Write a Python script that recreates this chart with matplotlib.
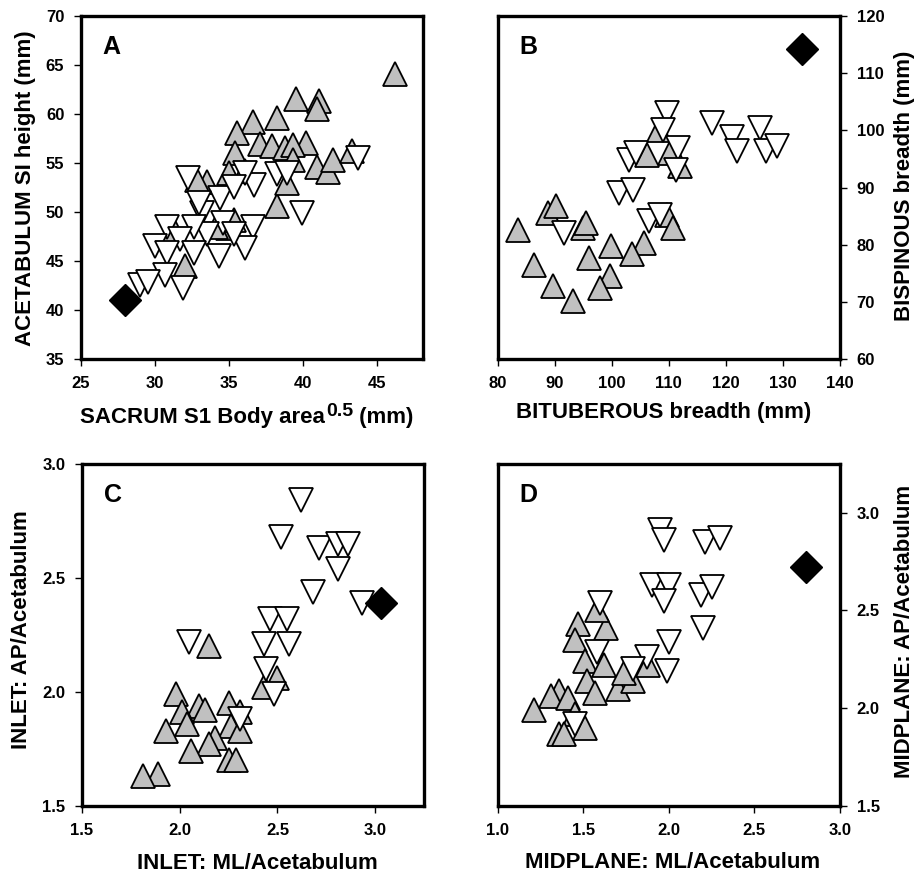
import matplotlib
matplotlib.use("Agg")
import matplotlib.pyplot as plt

plt.rcParams['font.family'] = ['Liberation Sans', 'DejaVu Sans']
plt.rcParams['font.weight'] = 'bold'

# ---------------- Panel A ----------------
a_up_x = [46.2, 39.5, 41.1, 40.9, 38.2, 36.6, 35.5, 35.4, 37.1, 37.9, 38.8, 40.2, 39.3,
          40.9, 41.7, 42.0, 43.3, 38.2, 35.0, 36.1, 33.5, 32.8, 32.0, 34.9, 38.9, 39.3,
          31.3, 34.1, 35.3]
a_up_y = [64.1, 61.5, 61.3, 60.5, 59.6, 59.2, 58.1, 56.0, 56.9, 56.7, 56.5, 57.0, 56.8,
          54.6, 54.1, 55.3, 56.2, 50.6, 54.0, 54.2, 53.1, 53.3, 44.5, 48.4, 53.0, 55.3,
          48.2, 48.5, 49.2]
a_dn_x = [43.7, 39.9, 38.2, 36.7, 36.1, 32.2, 34.4, 35.3, 33.2, 34.6, 36.6, 33.5, 32.6,
          30.8, 31.7, 30.0, 30.8, 34.3, 36.1, 30.7, 31.9, 29.0, 29.5, 32.6, 35.3, 33.0,
          38.9]
a_dn_y = [55.5, 49.9, 53.9, 52.8, 54.0, 53.5, 51.4, 52.6, 49.9, 48.9, 48.5, 47.8, 48.5,
          48.5, 47.2, 46.5, 45.8, 45.5, 46.3, 43.6, 42.2, 42.6, 42.9, 45.8, 47.8, 50.9,
          54.0]
a_dia_x = [28.0]
a_dia_y = [41.0]

# ---------------- Panel B ----------------
b_up_x = [108.3, 110.2, 106.2, 111.9, 109.6, 110.7, 105.6, 99.8, 103.6, 96.0, 99.6, 98.0,
          89.7, 93.2, 86.4, 83.5, 88.8, 90.3, 94.9, 95.5]
b_up_y = [100.1, 96.1, 95.7, 93.7, 85.2, 82.9, 80.3, 79.7, 78.4, 77.7, 74.5, 72.4,
          72.7, 70.1, 76.5, 82.6, 85.5, 86.7, 82.9, 83.8]
b_dn_x = [109.6, 117.5, 121.0, 121.9, 126.0, 127.0, 128.9, 109.0, 111.6, 103.1, 104.3,
          101.3, 103.7, 106.6, 108.4, 91.7, 111.3]
b_dn_y = [103.0, 101.3, 98.9, 96.3, 100.4, 96.3, 97.2, 100.1, 96.9, 94.8, 96.0,
          89.0, 89.6, 84.1, 85.2, 82.0, 93.1]
b_dia_x = [133.3]
b_dia_y = [114.2]

# ---------------- Panel C ----------------
c_up_x = [2.15, 2.50, 2.43, 1.98, 2.10, 2.01, 2.13, 2.25, 2.31, 2.04, 1.93, 2.26, 2.31,
          2.18, 2.15, 2.06, 2.25, 2.29, 1.89, 1.81]
c_up_y = [2.20, 2.06, 2.02, 1.99, 1.94, 1.91, 1.92, 1.95, 1.91, 1.86, 1.83, 1.85, 1.83,
          1.80, 1.77, 1.74, 1.70, 1.70, 1.64, 1.63]
c_dn_x = [2.62, 2.52, 2.71, 2.81, 2.86, 2.81, 2.68, 2.93, 2.46, 2.55, 2.43, 2.56, 2.05,
          2.44, 2.48, 2.31]
c_dn_y = [2.84, 2.68, 2.63, 2.65, 2.65, 2.54, 2.44, 2.39, 2.32, 2.32, 2.21, 2.21, 2.22,
          2.10, 1.99, 1.88]
c_dia_x = [3.03]
c_dia_y = [2.39]

# ---------------- Panel D ----------------
d_up_x = [1.47, 1.63, 1.45, 1.58, 1.51, 1.62, 1.52, 1.57, 1.70, 1.79, 1.74, 1.88, 1.36,
          1.31, 1.41, 1.21, 1.45, 1.51, 1.36, 1.39]
d_up_y = [2.43, 2.41, 2.35, 2.50, 2.24, 2.22, 2.14, 2.08, 2.10, 2.14, 2.18, 2.22, 2.09,
          2.06, 2.05, 1.99, 1.97, 1.90, 1.87, 1.87]
d_dn_x = [1.95, 1.97, 2.21, 2.30, 1.90, 2.00, 1.97, 2.19, 2.25, 1.60, 2.20, 2.00, 1.58,
          1.87, 1.79, 1.99, 1.45]
d_dn_y = [2.91, 2.86, 2.85, 2.87, 2.63, 2.63, 2.55, 2.58, 2.62, 2.54, 2.41, 2.34, 2.29,
          2.26, 2.20, 2.19, 1.92]
d_dia_x = [2.80]
d_dia_y = [2.72]

a_xticks = [25, 30, 35, 40, 45]
a_yticks = [35, 40, 45, 50, 55, 60, 65, 70]
b_xticks = [80, 90, 100, 110, 120, 130, 140]
b_yticks = [60, 70, 80, 90, 100, 110, 120]
c_xticks = [1.5, 2.0, 2.5, 3.0]
c_yticks = [1.5, 2.0, 2.5, 3.0]
d_xticks = [1.0, 1.5, 2.0, 2.5, 3.0]
d_yticks = [1.5, 2.0, 2.5, 3.0]

GREY = '#c0c0c0'
MS = 17
TICKFS = 12
LABFS = 16

fig = plt.figure(figsize=(9.2, 8.75), dpi=100)

W = 0.372
axA = fig.add_axes([0.088, 0.5897, W, 0.392])
axB = fig.add_axes([0.541, 0.5897, W, 0.392])
axC = fig.add_axes([0.089, 0.0789, W, 0.391])
axD = fig.add_axes([0.541, 0.0789, W, 0.391])


def draw(ax, ux, uy, dx, dy, qx, qy, xt, yt, fmt, right=False):
    ax.plot(ux, uy, ls='none', marker='^', ms=MS, mfc=GREY, mec='black', mew=1.3, zorder=3)
    ax.plot(dx, dy, ls='none', marker='v', ms=MS, mfc='white', mec='black', mew=1.3, zorder=4)
    ax.plot(qx, qy, ls='none', marker='D', ms=MS * 0.97, mfc='black', mec='black', mew=1.0, zorder=5)
    for s in ax.spines.values():
        s.set_linewidth(2.4)
    ax.set_xticks(xt)
    ax.set_yticks(yt)
    ax.set_xticklabels([fmt.format(v) for v in xt])
    ax.set_yticklabels([fmt.format(v) for v in yt])
    if right:
        ax.yaxis.tick_right()
        ax.yaxis.set_label_position('right')
    ax.tick_params(direction='out', length=5, width=1.0, labelsize=TICKFS, pad=7)


def letter(ax, t):
    ax.text(0.09, 0.91, t, transform=ax.transAxes, fontsize=18, fontweight='bold',
            ha='center', va='center')


# A
draw(axA, a_up_x, a_up_y, a_dn_x, a_dn_y, a_dia_x, a_dia_y, a_xticks, a_yticks, '{:g}')
axA.set_xlim(25, 48.1)
axA.set_ylim(35, 70)
t1 = fig.text(80 / 920, 1 - 428 / 875, 'SACRUM S1 Body area', fontsize=LABFS,
              fontweight='bold', ha='left', va='bottom')
t2 = axA.annotate('0.5', xy=(1.0, 1.0), xycoords=t1, xytext=(1, 3),
                  textcoords='offset points', fontsize=14, fontweight='bold',
                  ha='left', va='top', annotation_clip=False)
t3 = axA.annotate(' (mm)', xy=(1.0, 0.0), xycoords=(t2, t1), fontsize=LABFS,
                  fontweight='bold', ha='left', va='bottom', annotation_clip=False)
axA.set_ylabel('ACETABULUM SI height (mm)', fontsize=LABFS, fontweight='bold', va='center')
axA.yaxis.set_label_coords(-0.163, 0.499)
letter(axA, 'A')

# B
draw(axB, b_up_x, b_up_y, b_dn_x, b_dn_y, b_dia_x, b_dia_y, b_xticks, b_yticks, '{:g}', right=True)
axB.set_xlim(80, 140)
axB.set_ylim(60, 120)
axB.set_xlabel('BITUBEROUS breadth (mm)', fontsize=LABFS, fontweight='bold', va='center')
axB.xaxis.set_label_coords(0.485, -0.157)
axB.set_ylabel('BISPINOUS breadth (mm)', fontsize=LABFS, fontweight='bold', va='center', rotation=90)
axB.yaxis.set_label_coords(1.19, 0.504)
letter(axB, 'B')

# C
draw(axC, c_up_x, c_up_y, c_dn_x, c_dn_y, c_dia_x, c_dia_y, c_xticks, c_yticks, '{:.1f}')
axC.set_xlim(1.5, 3.25)
axC.set_ylim(1.5, 3.0)
axC.set_xlabel('INLET: ML/Acetabulum', fontsize=LABFS, fontweight='bold', va='center')
axC.xaxis.set_label_coords(0.512, -0.167)
axC.set_ylabel('INLET: AP/Acetabulum', fontsize=LABFS, fontweight='bold', va='center')
axC.yaxis.set_label_coords(-0.175, 0.516)
letter(axC, 'C')

# D
draw(axD, d_up_x, d_up_y, d_dn_x, d_dn_y, d_dia_x, d_dia_y, d_xticks, d_yticks, '{:.1f}', right=True)
axD.set_xlim(1.0, 3.0)
axD.set_ylim(1.5, 3.25)
axD.set_xlabel('MIDPLANE: ML/Acetabulum', fontsize=LABFS, fontweight='bold', va='center')
axD.xaxis.set_label_coords(0.511, -0.164)
axD.set_ylabel('MIDPLANE: AP/Acetabulum', fontsize=LABFS, fontweight='bold', va='center', rotation=90)
axD.yaxis.set_label_coords(1.19, 0.51)
letter(axD, 'D')

fig.savefig('out.png', dpi=100)
